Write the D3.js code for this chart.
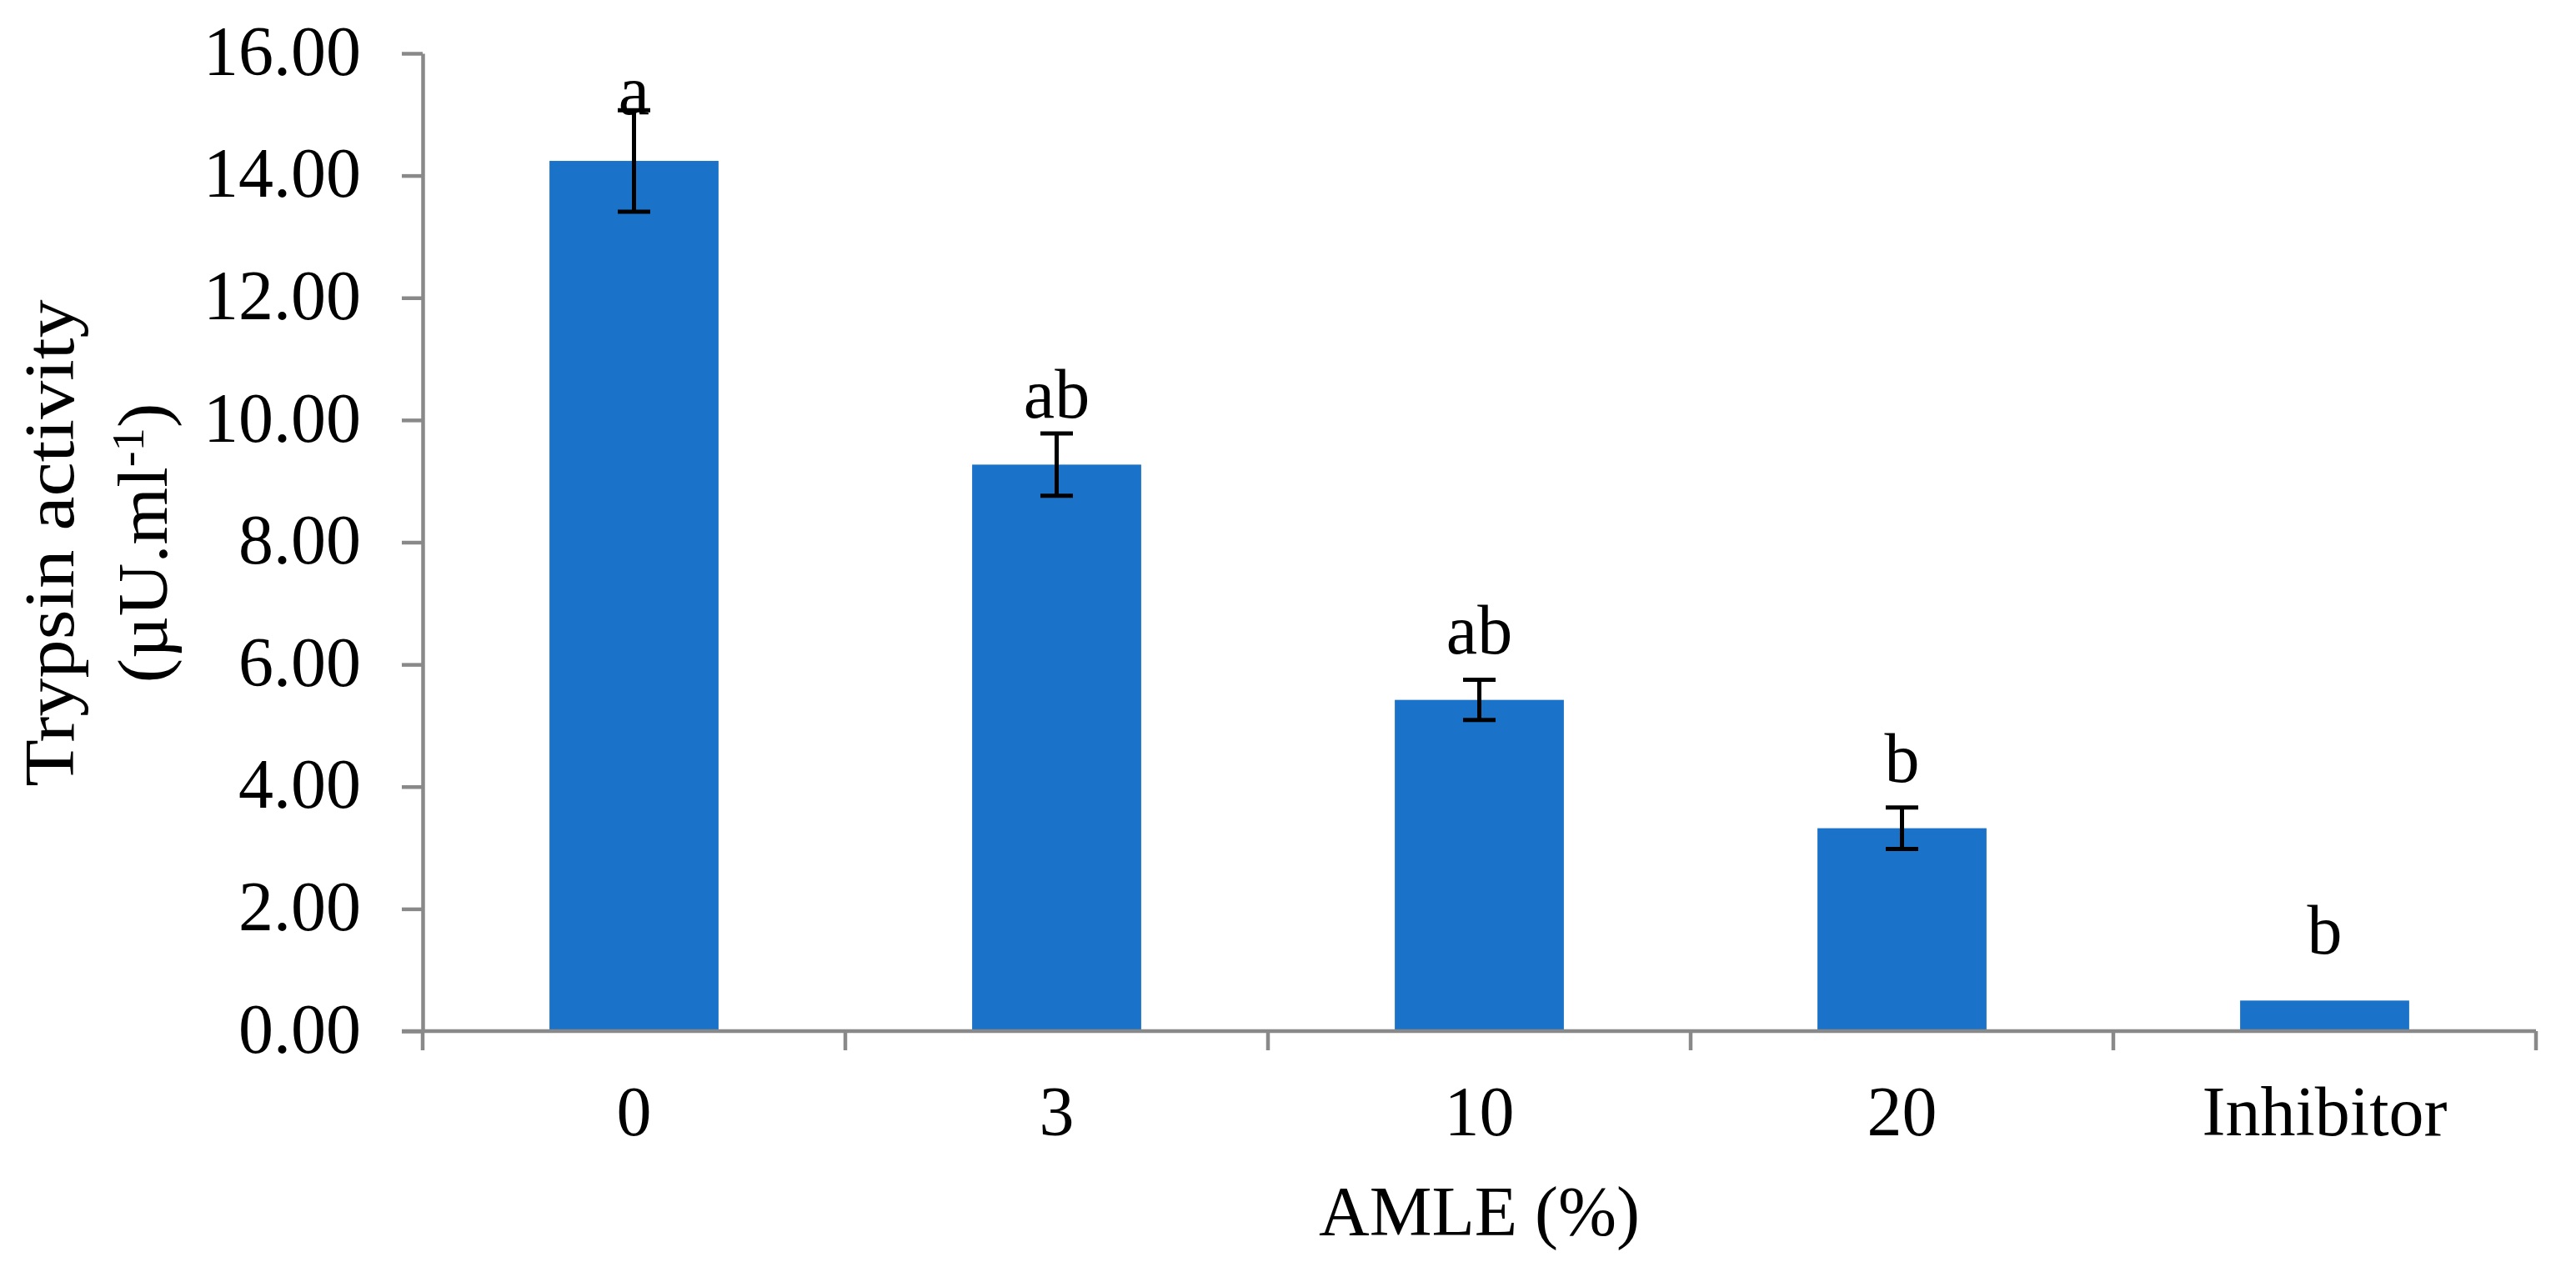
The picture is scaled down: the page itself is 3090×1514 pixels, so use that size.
<!DOCTYPE html>
<html>
<head>
<meta charset="utf-8">
<script src="https://cdn.jsdelivr.net/npm/d3@7"></script>
<style>
  html, body { margin: 0; padding: 0; background: #ffffff; }
  svg { display: block; }
  text { font-family: "Liberation Serif", "Times New Roman", serif; fill: #000; }
</style>
</head>
<body>
<svg id="chart" width="3090" height="1514"></svg>
<script>
// ---- data ----
const categories = ["0", "3", "10", "20", "Inhibitor"];
const values = [14.24, 9.27, 5.42, 3.32, 0.50];
const errors = [0.83, 0.51, 0.33, 0.34, 0];
const letters = ["a", "ab", "ab", "b", "b"];
const yTicks = [0, 2, 4, 6, 8, 10, 12, 14, 16];
const xTitle = "AMLE (%)";
const yTitleLine1 = "Trypsin activity";
const yTitleLine2 = "(µU.ml";
const yTitleSup = "-1";
const yTitleEnd = ")";

// ---- layout ----
const W = 3090, H = 1514;
const margin = { left: 507, right: 48, top: 64, bottom: 277 };
const fontSize = 84;
const axisColor = "#898989";
const barColor = "#1a73c8";

const svg = d3.select("#chart");

const x = d3.scaleBand()
  .domain(categories)
  .range([margin.left, W - margin.right])
  .paddingInner(0.6)
  .paddingOuter(0.3);

const y = d3.scaleLinear()
  .domain([0, 16])
  .range([H - margin.bottom, margin.top]);

// bars
svg.append("g").selectAll("rect")
  .data(categories)
  .join("rect")
  .attr("x", d => x(d))
  .attr("width", x.bandwidth())
  .attr("y", (d, i) => y(values[i]))
  .attr("height", (d, i) => y(0) - y(values[i]))
  .attr("fill", barColor);

// y axis
const yAxis = d3.axisLeft(y)
  .tickValues(yTicks)
  .tickFormat(d3.format(".2f"))
  .tickSize(25)
  .tickSizeOuter(0)
  .tickPadding(49);
const gy = svg.append("g")
  .attr("transform", `translate(${margin.left},0)`)
  .call(yAxis);
gy.select(".domain").attr("stroke", axisColor).attr("stroke-width", 4.5);
gy.selectAll(".tick line").attr("stroke", axisColor).attr("stroke-width", 4.5);
gy.selectAll(".tick text")
  .attr("font-size", fontSize)
  .attr("font-family", "Liberation Serif, Times New Roman, serif")
  .attr("fill", "#000")
  .attr("dy", "0.3em");

// x axis line
const x0 = x.range()[0], x1 = x.range()[1];
svg.append("line")
  .attr("x1", x0 - 25).attr("x2", x1)
  .attr("y1", y(0)).attr("y2", y(0))
  .attr("stroke", axisColor).attr("stroke-width", 4.5);

// x axis boundary ticks
const step = x.step();
const boundaries = d3.range(categories.length + 1).map(i => x(categories[0]) - step * x.paddingOuter() + i * step);
svg.append("g").selectAll("line")
  .data(boundaries)
  .join("line")
  .attr("x1", d => d).attr("x2", d => d)
  .attr("y1", y(0)).attr("y2", y(0) + 23)
  .attr("stroke", axisColor).attr("stroke-width", 4.5);

// x tick labels
svg.append("g").selectAll("text")
  .data(categories)
  .join("text")
  .attr("x", d => x(d) + x.bandwidth() / 2)
  .attr("y", y(0) + 125)
  .attr("text-anchor", "middle")
  .attr("font-size", fontSize)
  .text(d => d);

// error bars
const eb = svg.append("g").attr("stroke", "#000").attr("stroke-width", 5);
categories.forEach((c, i) => {
  if (errors[i] <= 0) return;
  const cx = x(c) + x.bandwidth() / 2;
  const yt = y(values[i] + errors[i]);
  const yb = y(values[i] - errors[i]);
  eb.append("line").attr("x1", cx).attr("x2", cx).attr("y1", yt).attr("y2", yb);
  eb.append("line").attr("x1", cx - 19.5).attr("x2", cx + 19.5).attr("y1", yt).attr("y2", yt);
  eb.append("line").attr("x1", cx - 19.5).attr("x2", cx + 19.5).attr("y1", yb).attr("y2", yb);
});

// significance letters
svg.append("g").selectAll("text")
  .data(categories)
  .join("text")
  .attr("x", d => x(d) + x.bandwidth() / 2)
  .attr("y", (d, i) => y(values[i]) - 56)
  .attr("text-anchor", "middle")
  .attr("font-size", fontSize)
  .text((d, i) => letters[i]);

// x title
svg.append("text")
  .attr("x", (x0 + x1) / 2)
  .attr("y", 1482)
  .attr("text-anchor", "middle")
  .attr("font-size", fontSize)
  .text(xTitle);

// y title (two lines, rotated, slightly stretched along its length as in the reference)
const yMid = (y.range()[0] + y.range()[1]) / 2 + 1;
svg.append("text")
  .attr("transform", `translate(88,${yMid}) rotate(-90) scale(1.1,1)`)
  .attr("text-anchor", "middle")
  .attr("font-size", fontSize)
  .text(yTitleLine1);
const t2 = svg.append("text")
  .attr("transform", `translate(200,${yMid}) rotate(-90) scale(1.05,1)`)
  .attr("text-anchor", "middle")
  .attr("font-size", fontSize);
t2.append("tspan").text(yTitleLine2);
t2.append("tspan").attr("font-size", 54).attr("dy", -28).text(yTitleSup);
t2.append("tspan").attr("dy", 28).text(yTitleEnd);
</script>
</body>
</html>
